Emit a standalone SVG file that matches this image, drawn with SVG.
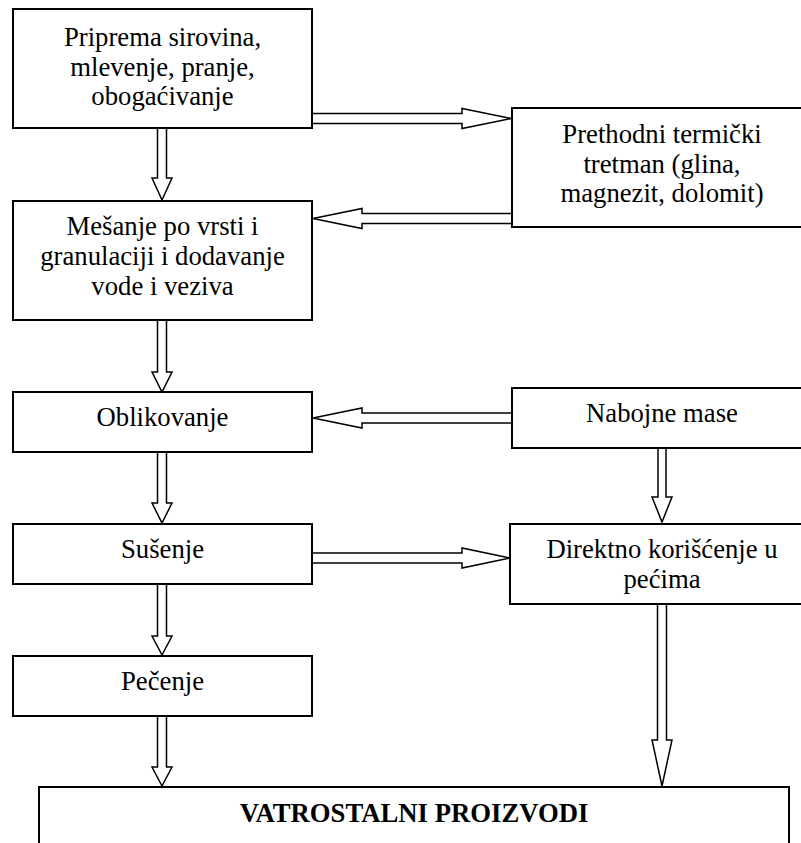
<svg xmlns="http://www.w3.org/2000/svg" width="801" height="843" viewBox="0 0 801 843">
  <style>
    .box { fill: #ffffff; stroke: #000000; stroke-width: 2; }
    .lbl { font-family: "Liberation Serif", "Times New Roman", Tinos, "DejaVu Serif", serif; font-size: 26.7px; font-weight: normal; fill: #000000; text-anchor: middle; }
    .bold { font-weight: bold; }
    .arr { fill: #ffffff; stroke: #000000; stroke-width: 1.5; stroke-linejoin: miter; }
  </style>
  <rect width="801" height="843" fill="#ffffff"/>

  <!-- block arrows (double-line shaft with open head) -->
  <g id="connectors">
    <!-- left column, downward -->
    <path class="arr" d="M157.5,128 V178 H152 L162,200 L172,178 H166.5 V128"/>
    <path class="arr" d="M157.5,320 V372 H152 L162,392 L172,372 H166.5 V320"/>
    <path class="arr" d="M157.5,452 V503 H152 L162,523 L172,503 H166.5 V452"/>
    <path class="arr" d="M157.5,584 V636 H152 L162,655 L172,636 H166.5 V584"/>
    <path class="arr" d="M157.5,716 V767 H152 L162,786 L172,767 H166.5 V716"/>
    <!-- right column, downward -->
    <path class="arr" d="M658,448 V497 H652 L662,522 L672,497 H666 V448"/>
    <path class="arr" d="M657.5,604 V740 H652 L662,786 L672,740 H666.5 V604"/>
    <!-- horizontal -->
    <path class="arr" d="M312,113.5 H462 V108.5 L511,118.5 L462,128.5 V123.5 H312"/>
    <path class="arr" d="M511,213.5 H362 V208.5 L313,218.5 L362,228.5 V223.5 H511"/>
    <path class="arr" d="M511,413 H362 V408 L313,418 L362,428 V423 H511"/>
    <path class="arr" d="M312,553 H462 V548 L510,558 L462,568 V563 H312"/>
  </g>

  <g id="priprema">
    <rect class="box" x="13" y="9" width="299" height="119"/>
    <text class="lbl" x="162.5" y="46">Priprema sirovina,</text>
    <text class="lbl" x="162.5" y="76">mlevenje, pranje,</text>
    <text class="lbl" x="162.5" y="105">obogaćivanje</text>
  </g>

  <g id="prethodni">
    <rect class="box" x="512" y="108" width="300" height="119"/>
    <text class="lbl" x="662" y="143">Prethodni termički</text>
    <text class="lbl" x="662" y="173">tretman (glina,</text>
    <text class="lbl" x="662" y="202">magnezit, dolomit)</text>
  </g>

  <g id="mesanje">
    <rect class="box" x="13" y="201" width="299" height="119"/>
    <text class="lbl" x="162.5" y="235">Mešanje po vrsti i</text>
    <text class="lbl" x="162.5" y="265">granulaciji i dodavanje</text>
    <text class="lbl" x="162.5" y="295">vode i veziva</text>
  </g>

  <g id="oblikovanje">
    <rect class="box" x="13" y="392" width="299" height="60"/>
    <text class="lbl" x="162.5" y="426">Oblikovanje</text>
  </g>

  <g id="nabojne">
    <rect class="box" x="512" y="388" width="300" height="60"/>
    <text class="lbl" x="662" y="422">Nabojne mase</text>
  </g>

  <g id="susenje">
    <rect class="box" x="13" y="524" width="299" height="60"/>
    <text class="lbl" x="162.5" y="558">Sušenje</text>
  </g>

  <g id="direktno">
    <rect class="box" x="510" y="524" width="302" height="80"/>
    <text class="lbl" x="662" y="558">Direktno korišćenje u</text>
    <text class="lbl" x="662" y="588">pećima</text>
  </g>

  <g id="pecenje">
    <rect class="box" x="13" y="656" width="299" height="60"/>
    <text class="lbl" x="162.5" y="690">Pečenje</text>
  </g>

  <g id="vatrostalni">
    <rect class="box" x="39" y="787" width="750" height="80"/>
    <text class="lbl bold" x="414" y="822">VATROSTALNI PROIZVODI</text>
  </g>
</svg>
